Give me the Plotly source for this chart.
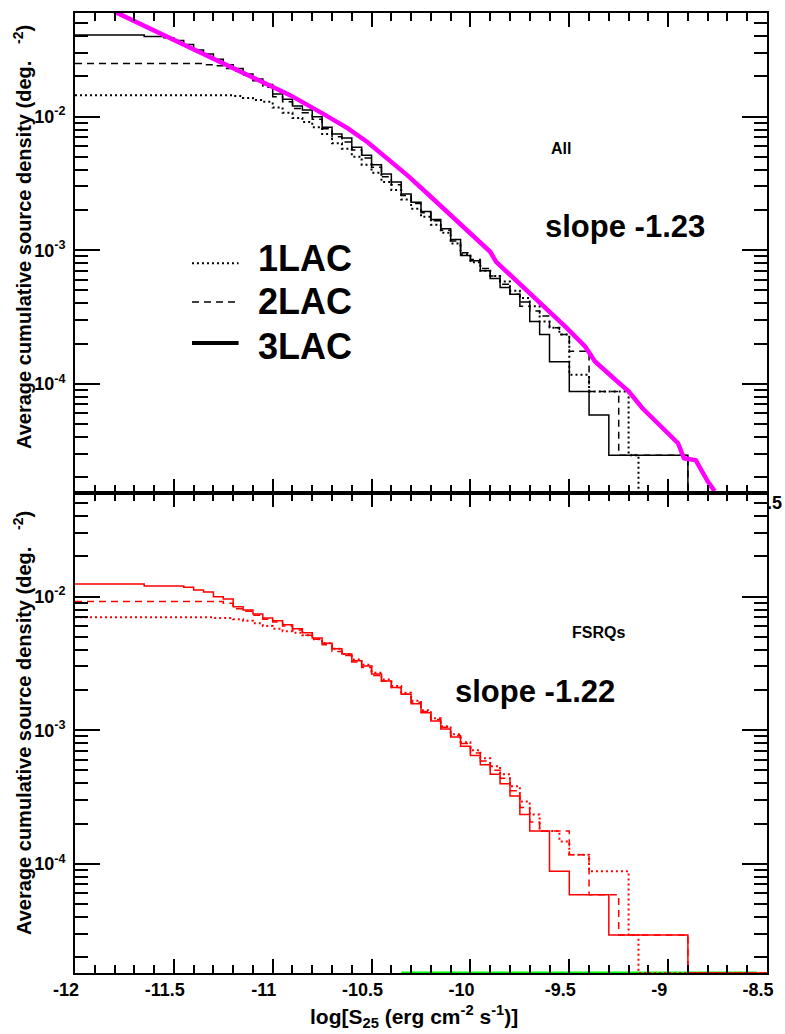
import plotly.graph_objects as go

# ---------------- data ----------------
# Cumulative source density N(>S) [deg^-2] versus log10 of the flux S_25.
# Step histograms are given as left bin edges and the value over that bin.

X_RANGE = [-12.0, -8.5]
Y_LOG_RANGE = [-4.818, -1.224]

# --- All blazars ---
all_1lac_x = [-12.00, -11.20, -11.15, -11.10, -11.05, -11.00, -10.95, -10.90, -10.85, -10.80,
              -10.75, -10.70, -10.65, -10.60, -10.55, -10.50, -10.45, -10.40, -10.35, -10.30,
              -10.25, -10.20, -10.15, -10.10, -10.05, -10.00, -9.95, -9.90, -9.85, -9.80,
              -9.75, -9.70, -9.65, -9.60, -9.55, -9.50, -9.40, -9.20, -9.15]
all_1lac_y = [0.01449, 0.01430, 0.0138, 0.0133, 0.0129, 0.0117, 0.0107, 0.00977, 0.00912, 0.00832,
              0.00741, 0.00631, 0.00575, 0.00501, 0.00437, 0.00380, 0.00324, 0.00282, 0.00240, 0.00204,
              0.00178, 0.00155, 0.00135, 0.00112, 0.000933, 0.000813, 0.000701, 0.000642, 0.000584, 0.000496,
              0.000438, 0.000380, 0.000292, 0.000263, 0.000234, 0.000117, 0.0000876, 0.0000292, 0.0]

all_2lac_x = [-12.00, -11.35, -11.30, -11.25, -11.20, -11.15, -11.10, -11.05, -11.00, -10.95,
              -10.90, -10.85, -10.80, -10.75, -10.70, -10.65, -10.60, -10.55, -10.50, -10.45,
              -10.40, -10.35, -10.30, -10.25, -10.20, -10.15, -10.10, -10.05, -10.00, -9.95,
              -9.90, -9.85, -9.80, -9.75, -9.70, -9.65, -9.60, -9.55, -9.50, -9.40, -9.25, -8.90]
all_2lac_y = [0.0250, 0.0245, 0.0240, 0.0229, 0.0219, 0.0204, 0.0186, 0.0166, 0.0141, 0.0129,
              0.0115, 0.0107, 0.00955, 0.00813, 0.00708, 0.00646, 0.00562, 0.00490, 0.00417, 0.00355,
              0.00309, 0.00257, 0.00224, 0.00191, 0.00166, 0.00141, 0.00117, 0.000955, 0.000851, 0.000730,
              0.000642, 0.000555, 0.000467, 0.000380, 0.000350, 0.000321, 0.000263, 0.000234, 0.000175,
              0.0000876, 0.0000292, 0.0]

all_3lac_x = [-12.00, -11.65, -11.55, -11.50, -11.45, -11.40, -11.35, -11.30, -11.25, -11.20,
              -11.15, -11.10, -11.05, -11.00, -10.95, -10.90, -10.85, -10.80, -10.75, -10.70,
              -10.65, -10.60, -10.55, -10.50, -10.45, -10.40, -10.35, -10.30, -10.25, -10.20,
              -10.15, -10.10, -10.05, -10.00, -9.95, -9.90, -9.85, -9.80, -9.75, -9.70,
              -9.65, -9.60, -9.50, -9.40, -9.30, -8.90]
all_3lac_y = [0.0409, 0.0399, 0.0389, 0.0372, 0.0347, 0.0316, 0.0295, 0.0269, 0.0245, 0.0229,
              0.0209, 0.0191, 0.0174, 0.0148, 0.0135, 0.0120, 0.0112, 0.0100, 0.00832, 0.00741,
              0.00692, 0.00589, 0.00513, 0.00437, 0.00372, 0.00324, 0.00263, 0.00229, 0.00195, 0.00170,
              0.00145, 0.00120, 0.000912, 0.000832, 0.000701, 0.000613, 0.000526, 0.000467, 0.000409,
              0.000292, 0.000234, 0.000146, 0.0000876, 0.0000584, 0.0000292, 0.0]

# smooth curve for all sources
all_curve_x = [-11.80, -11.07, -10.91, -10.74, -10.62, -10.52, -10.41, -10.32, -10.21, -10.07,
               -9.90, -9.87, -9.65, -9.52, -9.42, -9.37, -9.27, -9.20, -9.13, -9.05,
               -8.95, -8.92, -8.86, -8.80, -8.765]
all_curve_y = [0.0611, 0.01897, 0.01442, 0.01040, 0.00817, 0.00643, 0.00472, 0.00365, 0.00259, 0.00168,
               0.000973, 0.000818, 0.000411, 0.000268, 0.000190, 0.000147, 0.000108, 0.0000877, 0.0000655,
               0.0000506, 0.0000359, 0.0000277, 0.0000267, 0.0000186, 0.0000157]

# --- FSRQs ---
fsrq_1lac_x = [-12.00, -11.30, -11.20, -11.15, -11.10, -11.05, -11.00, -10.95, -10.90, -10.85,
               -10.80, -10.75, -10.70, -10.65, -10.60, -10.55, -10.50, -10.45, -10.40, -10.35,
               -10.30, -10.25, -10.20, -10.15, -10.10, -10.05, -10.00, -9.95, -9.90, -9.85,
               -9.80, -9.75, -9.70, -9.65, -9.55, -9.50, -9.40, -9.20, -9.15]
fsrq_1lac_y = [0.00702, 0.00692, 0.00676, 0.00661, 0.00631, 0.00603, 0.00575, 0.00550, 0.00537, 0.00513,
               0.00479, 0.00447, 0.00407, 0.00372, 0.00339, 0.00309, 0.00269, 0.00240, 0.00214, 0.00191,
               0.00166, 0.00141, 0.00123, 0.00107, 0.000933, 0.000813, 0.000708, 0.000617, 0.000537,
               0.000468, 0.000381, 0.000293, 0.000234, 0.000176, 0.000147, 0.000117, 0.0000879,
               0.0000293, 0.0]

fsrq_2lac_x = [-12.00, -11.25, -11.20, -11.15, -11.10, -11.05, -11.00, -10.95, -10.90, -10.85,
               -10.80, -10.75, -10.70, -10.65, -10.60, -10.55, -10.50, -10.45, -10.40, -10.35,
               -10.30, -10.25, -10.20, -10.15, -10.10, -10.05, -10.00, -9.95, -9.90, -9.85,
               -9.80, -9.75, -9.70, -9.65, -9.50, -9.40, -9.25, -8.90]
fsrq_2lac_y = [0.00918, 0.00891, 0.00813, 0.00776, 0.00724, 0.00676, 0.00646, 0.00603, 0.00562, 0.00513,
               0.00479, 0.00437, 0.00389, 0.00363, 0.00324, 0.00295, 0.00257, 0.00234, 0.00209, 0.00186,
               0.00162, 0.00138, 0.00120, 0.00105, 0.000912, 0.000794, 0.000676, 0.000589, 0.000501,
               0.000437, 0.000352, 0.000264, 0.000205, 0.000176, 0.000117, 0.0000586, 0.0000293, 0.0]

fsrq_3lac_x = [-12.00, -11.65, -11.45, -11.40, -11.35, -11.30, -11.25, -11.20, -11.15, -11.10,
               -11.05, -11.00, -10.95, -10.90, -10.85, -10.80, -10.75, -10.70, -10.65, -10.60,
               -10.55, -10.50, -10.45, -10.40, -10.35, -10.30, -10.25, -10.20, -10.15, -10.10,
               -10.05, -10.00, -9.95, -9.90, -9.85, -9.80, -9.75, -9.70, -9.60, -9.50, -9.30, -8.90]
fsrq_3lac_y = [0.01245, 0.0120, 0.01175, 0.01122, 0.01084, 0.0100, 0.00962, 0.00841, 0.00794, 0.00741,
               0.00692, 0.00661, 0.00617, 0.00575, 0.00537, 0.00490, 0.00447, 0.00407, 0.00372, 0.00331,
               0.00302, 0.00263, 0.00234, 0.00209, 0.00186, 0.00158, 0.00135, 0.00117, 0.00102, 0.000891,
               0.000759, 0.000646, 0.000550, 0.000468, 0.000398, 0.000322, 0.000234, 0.000176, 0.0000879,
               0.0000586, 0.0000293, 0.0]

# empty (zero) histogram shown along the floor of the lower panel
other_x = [-10.35, -8.55]
other_y = [0.0, 0.0]

legend_labels = ["1LAC", "2LAC", "3LAC"]
panel_labels = ["All", "FSRQs"]
slope_labels = ["slope -1.23", "slope -1.22"]
x_tick_vals = [-12, -11.5, -11, -10.5, -10, -9.5, -9, -8.5]
x_tick_text = ["-12", "-11.5", "-11", "-10.5", "-10", "-9.5", "-9", "-8.5"]
y_tick_vals = [1e-4, 1e-3, 1e-2]
y_tick_text = ["10<sup>-4</sup>", "10<sup>-3</sup>", "10<sup>-2</sup>"]

# ---------------- figure ----------------
W, H = 785, 1034
ML, MR, MT, MB = 75, 12, 11, 61
FLOOR = 10 ** Y_LOG_RANGE[0]
FONT = "Liberation Sans"
NB = "\u00a0"


def px_x(px):
    return (px - ML) / (W - ML - MR)


def px_y(py):
    return (H - MB - py) / (H - MT - MB)


def floored(vals):
    return [v if v > 0 else FLOOR for v in vals]


def step_trace(xs, ys, color, width, dash, xa, ya):
    xx = list(xs) + [X_RANGE[1]]
    yy = floored(ys) + [floored(ys)[-1]]
    return go.Scatter(x=xx, y=yy, mode="lines", xaxis=xa, yaxis=ya, showlegend=False,
                      line=dict(shape="hv", color=color, width=width, dash=dash),
                      hoverinfo="skip")


DOT = "2px,3px"
DASH = "7px,5px"

fig = go.Figure()

# upper panel: all sources
fig.add_trace(step_trace(all_1lac_x, all_1lac_y, "black", 2, DOT, "x", "y"))
fig.add_trace(step_trace(all_2lac_x, all_2lac_y, "black", 1.5, DASH, "x", "y"))
fig.add_trace(step_trace(all_3lac_x, all_3lac_y, "black", 1.5, "solid", "x", "y"))
fig.add_trace(go.Scatter(x=all_curve_x, y=all_curve_y, mode="lines", xaxis="x", yaxis="y",
                         showlegend=False, hoverinfo="skip",
                         line=dict(color="#ff00ff", width=4.5)))

# lower panel: FSRQs
fig.add_trace(go.Scatter(x=other_x, y=floored(other_y), mode="lines", xaxis="x2", yaxis="y2",
                         showlegend=False, hoverinfo="skip",
                         line=dict(color="#00ff00", width=3)))
fig.add_trace(step_trace(fsrq_1lac_x, fsrq_1lac_y, "#ff0000", 2, DOT, "x2", "y2"))
fig.add_trace(step_trace(fsrq_2lac_x, fsrq_2lac_y, "#ff0000", 1.5, DASH, "x2", "y2"))
fig.add_trace(step_trace(fsrq_3lac_x, fsrq_3lac_y, "#ff0000", 1.5, "solid", "x2", "y2"))

minor_y = [m * 10 ** e for e in range(-5, -1) for m in range(2, 10)]

tickfont = dict(family=FONT, size=18, color="black", weight="bold")

xcommon = dict(range=X_RANGE, showgrid=False, zeroline=False, showline=True, linecolor="black",
               linewidth=1.5, mirror="allticks", ticks="inside", ticklen=14, tickwidth=1.5,
               tickcolor="black", tickmode="array", tickvals=x_tick_vals, ticktext=x_tick_text,
               minor=dict(ticks="inside", ticklen=8, tickwidth=1.5, tickcolor="black",
                          tick0=-12, dtick=0.1, showgrid=False))
ycommon = dict(type="log", range=Y_LOG_RANGE, showgrid=False, zeroline=False, showline=True,
               linecolor="black", linewidth=2, mirror="allticks", ticks="inside", ticklen=25,
               tickwidth=1.5, tickcolor="black", tickmode="array", tickvals=y_tick_vals,
               ticktext=y_tick_text, tickfont=tickfont, ticklabelstandoff=4,
               minor=dict(ticks="inside", ticklen=13, tickwidth=1.5, tickcolor="black",
                          tickmode="array", tickvals=minor_y, showgrid=False))

fig.update_layout(
    width=W, height=H,
    margin=dict(l=ML, r=MR, t=MT, b=MB),
    paper_bgcolor="white", plot_bgcolor="white",
    xaxis=dict(domain=[0, 1], anchor="y", showticklabels=False, **xcommon),
    yaxis=dict(domain=[0.5, 1], anchor="x", **ycommon),
    xaxis2=dict(domain=[0, 1], anchor="y2", showticklabels=True, tickfont=tickfont,
                ticklabelshift=-9, ticklabelstandoff=0, **xcommon),
    yaxis2=dict(domain=[0, 0.5], anchor="x2", **ycommon),
    showlegend=False,
)

# axis titles
ytitle = "Average cumulative source density (deg." + NB * 3 + "<sup>-2</sup>)"
for yc in (235, 722):
    fig.add_annotation(xref="paper", yref="paper", x=px_x(22), y=px_y(yc), text=ytitle,
                       textangle=-90, showarrow=False, xanchor="center", yanchor="middle",
                       font=dict(family=FONT, size=20, color="black", weight="bold"))
fig.add_annotation(xref="paper", yref="paper", x=px_x(417), y=px_y(1017),
                   text="log[S<sub>25</sub>" + NB + "(erg cm<sup>-2</sup>" + NB + "s<sup>-1</sup>)]",
                   showarrow=False, xanchor="center", yanchor="middle",
                   font=dict(family=FONT, size=21, color="black", weight="bold"))

# partially visible tick label of the upper panel's axis
fig.add_annotation(xref="paper", yref="paper", x=px_x(771), y=px_y(502), text=".5",
                   showarrow=False, xanchor="left", yanchor="middle",
                   font=dict(family=FONT, size=18, color="black", weight="bold"))

# panel labels
fig.add_annotation(xref="paper", yref="paper", x=px_x(565), y=px_y(147), text=panel_labels[0],
                   showarrow=False, xanchor="center", yanchor="middle",
                   font=dict(family=FONT, size=16, color="black", weight="bold"))
fig.add_annotation(xref="paper", yref="paper", x=px_x(603), y=px_y(632), text=panel_labels[1],
                   showarrow=False, xanchor="center", yanchor="middle",
                   font=dict(family=FONT, size=16, color="black", weight="bold"))
fig.add_annotation(xref="paper", yref="paper", x=px_x(547), y=px_y(225), text=slope_labels[0],
                   showarrow=False, xanchor="left", yanchor="middle",
                   font=dict(family=FONT, size=31, color="black", weight="bold"))
fig.add_annotation(xref="paper", yref="paper", x=px_x(456), y=px_y(691), text=slope_labels[1],
                   showarrow=False, xanchor="left", yanchor="middle",
                   font=dict(family=FONT, size=31, color="black", weight="bold"))

# legend
leg_styles = [(DOT, 2), (DASH, 1.5), ("solid", 4)]
leg_line_y = [261.7, 300.7, 341.7]
leg_text_y = [257, 300, 345]
for (dash, w), ly, ty, lab in zip(leg_styles, leg_line_y, leg_text_y, legend_labels):
    fig.add_shape(type="line", xref="paper", yref="paper", x0=px_x(193), x1=px_x(240),
                  y0=px_y(ly), y1=px_y(ly), line=dict(color="black", width=w, dash=dash))
    fig.add_annotation(xref="paper", yref="paper", x=px_x(258), y=px_y(ty), text=lab,
                       showarrow=False, xanchor="left", yanchor="middle",
                       font=dict(family=FONT, size=36, color="black", weight="bold"))

fig.write_html("out.html")
